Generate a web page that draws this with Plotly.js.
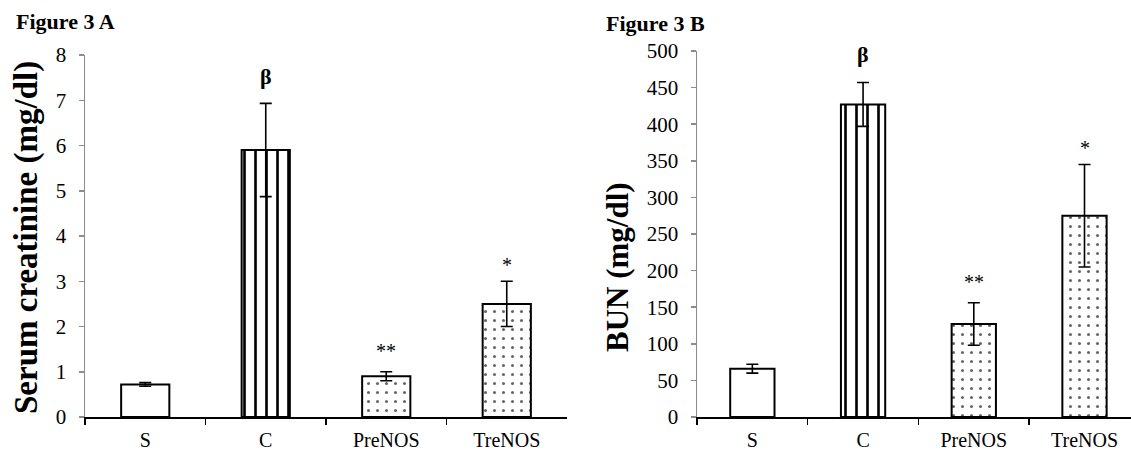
<!DOCTYPE html>
<html>
<head>
<meta charset="utf-8">
<script src="https://cdn.plot.ly/plotly-3.0.1.min.js"></script>
<style>
  html, body { margin: 0; padding: 0; background: #fff; }
  #chart { width: 1131px; height: 452px; }
</style>
</head>
<body>
<div id="chart"></div>
<script>
// ---- data ----
var categories = ['S', 'C', 'PreNOS', 'TreNOS'];
var creatinine = [0.72, 5.9, 0.9, 2.5];
var creatinineErr = [0.04, 1.03, 0.1, 0.5];
var bun = [66, 427, 127, 275];
var bunErr = [6, 30, 29, 70];
var signifA = ['', 'β', '**', '*'];
var signifB = ['', 'β', '**', '*'];
var yTicksA = [0, 1, 2, 3, 4, 5, 6, 7, 8];
var yTicksB = [0, 50, 100, 150, 200, 250, 300, 350, 400, 450, 500];

// ---- styles ----
var W = 1131, H = 452;
var FONT = 'Liberation Serif, DejaVu Serif, serif';
var patternShapes = ['', '|', '.', '.'];
var patternFg = ['#000', '#000', '#666', '#666'];
var patternSize = [8, 11, 9, 9];
var patternSolid = [0.2, 0.24, 0.09, 0.09];

function barTrace(y, err, xa, ya) {
  return {
    type: 'bar', x: categories, y: y, xaxis: xa, yaxis: ya, width: 0.4,
    marker: {
      color: '#ffffff',
      line: {color: '#000', width: 2},
      pattern: {shape: patternShapes, fgcolor: patternFg, bgcolor: '#ffffff',
                size: patternSize, solidity: patternSolid, fillmode: 'replace'}
    },
    error_y: {type: 'data', array: err, visible: true, color: '#000', thickness: 1.6, width: 6},
    hoverinfo: 'skip', showlegend: false
  };
}

var data = [
  barTrace(creatinine, creatinineErr, 'x', 'y'),
  barTrace(bun, bunErr, 'x2', 'y2')
];

function xAxis(domain, range, anchor) {
  return {
    domain: domain, anchor: anchor, type: 'category', categoryarray: categories,
    range: range, showgrid: false, zeroline: false,
    showline: true, linecolor: '#000', linewidth: 1.5,
    ticks: 'outside', tickson: 'boundaries', ticklen: 6, tickcolor: '#000', tickwidth: 1.5,
    ticklabelstandoff: 4,
    tickfont: {family: FONT, size: 20, color: '#000'}, fixedrange: true
  };
}
function yAxis(domain, range, tickvals, anchor) {
  return {
    domain: domain, anchor: anchor, range: range, tickvals: tickvals,
    showgrid: false, zeroline: false,
    showline: true, linecolor: '#8c8c8c', linewidth: 1.5,
    ticks: 'outside', ticklen: 5, tickcolor: '#8c8c8c', tickwidth: 1.5,
    ticklabelstandoff: 8,
    tickfont: {family: FONT, size: 21, color: '#000'}, fixedrange: true
  };
}

var annotations = [];
categories.forEach(function (c, i) {
  if (signifA[i]) annotations.push({
    xref: 'x', yref: 'y', x: c, y: creatinine[i] + creatinineErr[i],
    text: signifA[i], showarrow: false, yanchor: 'middle',
    yshift: signifA[i] === 'β' ? 27 : (signifA[i] === '**' ? 21 : 16),
    font: {family: FONT, size: signifA[i] === 'β' ? 22 : 20, color: '#000', weight: signifA[i] === 'β' ? 'bold' : 'normal'}
  });
  if (signifB[i]) annotations.push({
    xref: 'x2', yref: 'y2', x: c, y: bun[i] + bunErr[i],
    text: signifB[i], showarrow: false, yanchor: 'middle',
    yshift: signifB[i] === 'β' ? 28 : (signifB[i] === '**' ? 21 : 16),
    font: {family: FONT, size: signifB[i] === 'β' ? 22 : 20, color: '#000', weight: signifB[i] === 'β' ? 'bold' : 'normal'}
  });
});
// panel labels
annotations.push({xref: 'paper', yref: 'paper', x: 14 / W, y: 1 - 22 / H, xanchor: 'left', yanchor: 'middle',
  text: '<b>Figure 3 A</b>', showarrow: false, font: {family: FONT, size: 22, color: '#000'}});
annotations.push({xref: 'paper', yref: 'paper', x: 604 / W, y: 1 - 23 / H, xanchor: 'left', yanchor: 'middle',
  text: '<b>Figure 3 B</b>', showarrow: false, font: {family: FONT, size: 22, color: '#000'}});
// axis titles
annotations.push({xref: 'paper', yref: 'paper', x: 26 / W, y: 1 - 238 / H, xanchor: 'center', yanchor: 'middle',
  textangle: -90, text: '<b>Serum creatinine (mg/dl)</b>', showarrow: false, font: {family: FONT, size: 33, color: '#000'}});
annotations.push({xref: 'paper', yref: 'paper', x: 617 / W, y: 1 - 267 / H, xanchor: 'center', yanchor: 'middle',
  textangle: -90, text: '<b>BUN (mg/dl)</b>', showarrow: false, font: {family: FONT, size: 31, color: '#000'}});

var y0 = 1 - 417 / H;
var layout = {
  width: W, height: H,
  margin: {l: 0, r: 0, t: 0, b: 0},
  paper_bgcolor: '#ffffff', plot_bgcolor: 'rgba(0,0,0,0)',
  showlegend: false, hovermode: false,
  xaxis: xAxis([85 / W, 567 / W], [-0.5, 3.5], 'y'),
  yaxis: yAxis([y0, 1 - 55 / H], [0, 8], yTicksA, 'x'),
  xaxis2: xAxis([697 / W, 1], [-0.5, 3.42], 'y2'),
  yaxis2: yAxis([y0, 1 - 51 / H], [0, 500], yTicksB, 'x2'),
  annotations: annotations
};

Plotly.newPlot('chart', data, layout, {displayModeBar: false, staticPlot: true});
</script>
</body>
</html>
